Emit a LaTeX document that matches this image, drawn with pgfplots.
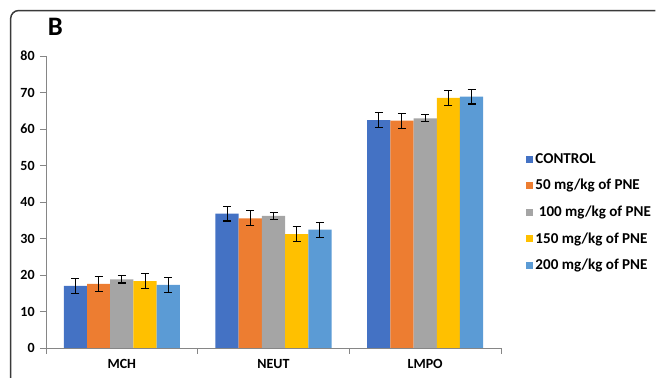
\documentclass[border=0pt]{standalone}
\usepackage{pgfplots}
\pgfplotsset{compat=1.18}
\usepackage{fontspec}
\setmainfont{Carlito}
\definecolor{cA}{HTML}{4472C4}
\definecolor{cB}{HTML}{ED7D31}
\definecolor{cC}{HTML}{A5A5A5}
\definecolor{cD}{HTML}{FFC000}
\definecolor{cE}{HTML}{5B9BD5}
\definecolor{axgray}{HTML}{868686}
\definecolor{framec}{HTML}{3A3A3A}
\begin{document}
\begin{tikzpicture}
\useasboundingbox (0,0) rectangle (492.75pt,283.5pt);
\draw[color=framec, line width=1.1pt, rounded corners=6pt] (8pt,0) -- (8pt,275.6pt) -- (491.5pt,275.6pt);
\node[font=\bfseries\fontsize{20}{20}\selectfont] at (41.5pt,263pt) {B};
\begin{axis}[
  at={(34.5pt,22.5pt)}, anchor=south west,
  scale only axis, width=341.25pt, height=219pt,
  ymin=0, ymax=80, xmin=-0.5, xmax=2.5,
  ybar=0pt, bar width=0.153,
  axis x line*=bottom, axis y line*=left,
  axis line style={draw=axgray, line width=0.7pt},
  every tick/.style={draw=axgray, line width=0.7pt},
  tick align=outside, major tick length=4.5pt,
  ytick={0,10,...,80},
  xtick={-0.5,0.5,1.5,2.5}, xticklabels={},
  extra x ticks={0,1,2}, extra x tick labels={MCH,NEUT,LMPO},
  extra x tick style={major tick length=0pt, tick label style={yshift=-5pt}},
  /pgf/number format/assume math mode=true,
  tick label style={font=\bfseries\fontsize{10.5}{11}\selectfont, text=black},
  yticklabel style={xshift=-0.5pt},
  legend style={at={(1.055,0.675)}, anchor=north west, draw=none, fill=none,
    font=\bfseries\fontsize{11.3}{13}\selectfont, row sep=7.6pt, inner sep=0pt,
    nodes={inner sep=1.5pt, xshift=1.5pt}},
  legend cell align=left,
  every axis plot post/.append style={draw=none,
    legend image code/.code={\fill[##1] (0pt,-2.7pt) rectangle (5.4pt,2.7pt);}},
  error bars/y dir=both, error bars/y explicit,
  error bars/error bar style={black, line width=0.8pt},
  error bars/error mark options={black, line width=0.8pt, mark size=3pt, rotate=90},
]
\addplot[fill=cA] coordinates {(0,17.0) +- (0,2.0) (1,36.8) +- (0,2.0) (2,62.4) +- (0,2.05)};
\addplot[fill=cB] coordinates {(0,17.6) +- (0,2.1) (1,35.5) +- (0,2.05) (2,62.3) +- (0,2.05)};
\addplot[fill=cC] coordinates {(0,18.8) +- (0,1.0) (1,36.2) +- (0,0.95) (2,62.9) +- (0,0.95)};
\addplot[fill=cD] coordinates {(0,18.3) +- (0,2.05) (1,31.2) +- (0,2.0) (2,68.5) +- (0,2.05)};
\addplot[fill=cE] coordinates {(0,17.3) +- (0,2.1) (1,32.4) +- (0,2.0) (2,68.9) +- (0,2.05)};
\legend{CONTROL,50 mg/kg of PNE,\ 100 mg/kg of PNE,150 mg/kg of PNE,200 mg/kg of PNE}
\end{axis}
\end{tikzpicture}
\end{document}
